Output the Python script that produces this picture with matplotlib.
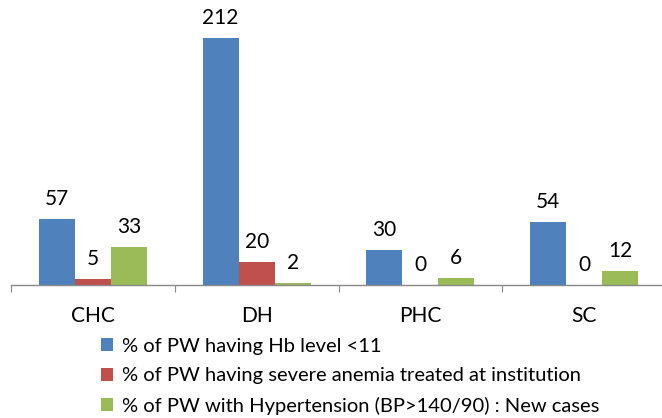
import matplotlib
matplotlib.use("Agg")
import matplotlib.pyplot as plt
import numpy as np

categories = ["CHC", "DH", "PHC", "SC"]
series_names = [
    "% of PW having Hb level <11",
    "% of PW having severe anemia treated at institution",
    "% of PW with Hypertension (BP>140/90) : New cases",
]
hb_low = [57, 212, 30, 54]
severe_anemia = [5, 20, 0, 0]
hypertension = [33, 2, 6, 12]
colors = ["#4F81BD", "#C0504D", "#9BBB59"]

plt.rcParams["font.family"] = ["Lato", "DejaVu Sans"]

W, H = 662, 418
fig = plt.figure(figsize=(W / 100, H / 100), dpi=100)
left, right, base, top = 11, 666, 285, 5
ax = fig.add_axes([left / W, (H - base) / H, (right - left) / W, (base - top) / H])

x = np.arange(len(categories))
bw = 0.22
series = [hb_low, severe_anemia, hypertension]
for i, (vals, c, name) in enumerate(zip(series, colors, series_names)):
    pos = x + (i - 1) * bw
    ax.bar(pos, vals, width=bw, color=c, label=name, edgecolor="none", zorder=2)
    for p, v in zip(pos, vals):
        ax.annotate(str(v), (p, v), xytext=(0, 7), textcoords="offset points",
                    ha="center", va="bottom", fontsize=15, color="#000000")

ax.set_xlim(-0.5, len(categories) - 0.5)
ax.set_ylim(0, (base - top) / 1.165)
for s in ["top", "right", "left"]:
    ax.spines[s].set_visible(False)
ax.spines["bottom"].set_color("#888888")
ax.spines["bottom"].set_linewidth(1.0)
ax.set_yticks([])
ax.set_xticks(np.arange(-0.5, len(categories) + 0.5, 1.0))
ax.set_xticklabels([])
ax.set_xticks(x, minor=True)
ax.set_xticklabels(categories, minor=True, fontsize=15)
ax.tick_params(axis="x", which="major", length=5, color="#888888", direction="out")
ax.tick_params(axis="x", which="minor", length=0, pad=15)

handles, labels = ax.get_legend_handles_labels()
fig.legend(handles, labels, loc="upper left", bbox_to_anchor=(101 / W, 1 - 338 / H),
           frameon=False, fontsize=14.5, handlelength=0.62, handleheight=0.62,
           handletextpad=0.4, labelspacing=0.62, borderaxespad=0, borderpad=0)

fig.savefig("out.png", dpi=100)
